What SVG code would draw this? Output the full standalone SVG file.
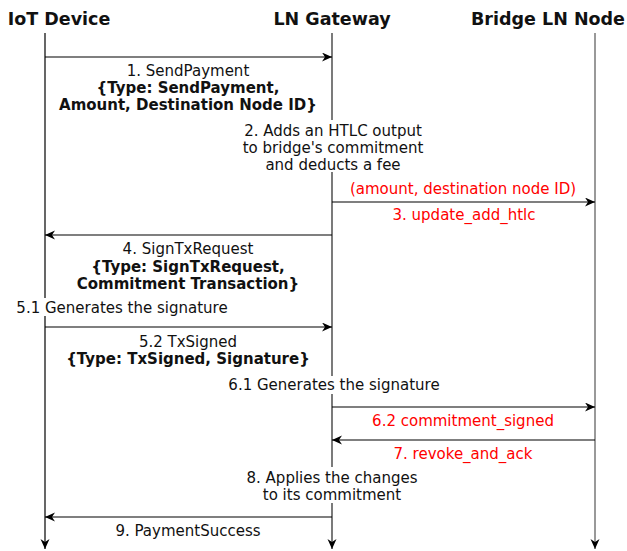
<svg xmlns="http://www.w3.org/2000/svg" width="627" height="551" viewBox="0 0 627 551">
<defs>
<marker id="arr" markerUnits="userSpaceOnUse" markerWidth="11" markerHeight="10" refX="10" refY="4.5" orient="auto">
<path d="M0,0 L10,4.5 L0,9 L3,4.5 Z" fill="#000"/>
</marker>
<style>
text{font-family:"DejaVu Sans","Verdana",sans-serif;font-size:15px;fill:#111;text-anchor:middle}
.h{font-weight:bold;font-size:17.5px}
.b{font-weight:bold}
.r{fill:#ff0000}
.ll{stroke:#000;stroke-width:1.2;fill:none}
.msg{stroke:#000;stroke-width:1.2;fill:none;marker-end:url(#arr)}
.bg{fill:#fff}
</style>
</defs>
<rect width="627" height="551" fill="#fff"/>
<g id="lifelines">
<line class="ll" x1="45" y1="33" x2="45" y2="549" marker-end="url(#arr)"/>
<line class="ll" x1="332" y1="33" x2="332" y2="549" marker-end="url(#arr)" style="stroke:#222"/>
<line class="ll" x1="595" y1="33" x2="595" y2="549" marker-end="url(#arr)" style="stroke:#555"/>
</g>
<g id="iot"><text class="h" x="59" y="25">IoT Device</text></g>
<g id="gateway"><text class="h" x="332" y="25">LN Gateway</text></g>
<g id="bridge"><text class="h" x="548" y="25">Bridge LN Node</text></g>
<g id="connectors">
<line class="msg" x1="45" y1="57" x2="332" y2="57"/>
<line class="msg" x1="332" y1="202" x2="595" y2="202"/>
<line class="msg" x1="332" y1="235" x2="45" y2="235"/>
<line class="msg" x1="45" y1="327" x2="332" y2="327"/>
<line class="msg" x1="332" y1="407" x2="595" y2="407"/>
<line class="msg" x1="595" y1="440" x2="332" y2="440"/>
<line class="msg" x1="332" y1="517" x2="45" y2="517"/>
</g>
<g id="label1">
<text x="188" y="76">1. SendPayment</text>
<text class="b" x="188" y="93">{Type: SendPayment,</text>
<text class="b" x="188" y="110">Amount, Destination Node ID}</text>
</g>
<g id="label2">
<rect class="bg" x="238" y="120" width="190" height="52"/>
<text x="333" y="136">2. Adds an HTLC output</text>
<text x="333" y="153">to bridge's commitment</text>
<text x="333" y="170">and deducts a fee</text>
</g>
<g id="label3">
<text class="r" x="463" y="194">(amount, destination node ID)</text>
<text class="r" x="464" y="220">3. update_add_htlc</text>
</g>
<g id="label4">
<text x="188" y="254">4. SignTxRequest</text>
<text class="b" x="188" y="272">{Type: SignTxRequest,</text>
<text class="b" x="188" y="289">Commitment Transaction}</text>
</g>
<g id="label51">
<rect class="bg" x="14" y="298" width="218" height="18"/>
<text x="122" y="313">5.1 Generates the signature</text>
</g>
<g id="label52">
<text x="188" y="347">5.2 TxSigned</text>
<text class="b" x="188" y="364">{Type: TxSigned, Signature}</text>
</g>
<g id="label61">
<rect class="bg" x="226" y="376" width="218" height="18"/>
<text x="334" y="390">6.1 Generates the signature</text>
</g>
<g id="label62"><text class="r" x="463" y="426">6.2 commitment_signed</text></g>
<g id="label7"><text class="r" x="463" y="459">7. revoke_and_ack</text></g>
<g id="label8">
<rect class="bg" x="242" y="467" width="180" height="36"/>
<text x="332" y="483">8. Applies the changes</text>
<text x="332" y="500">to its commitment</text>
</g>
<g id="label9"><text x="188" y="536">9. PaymentSuccess</text></g>
</svg>
